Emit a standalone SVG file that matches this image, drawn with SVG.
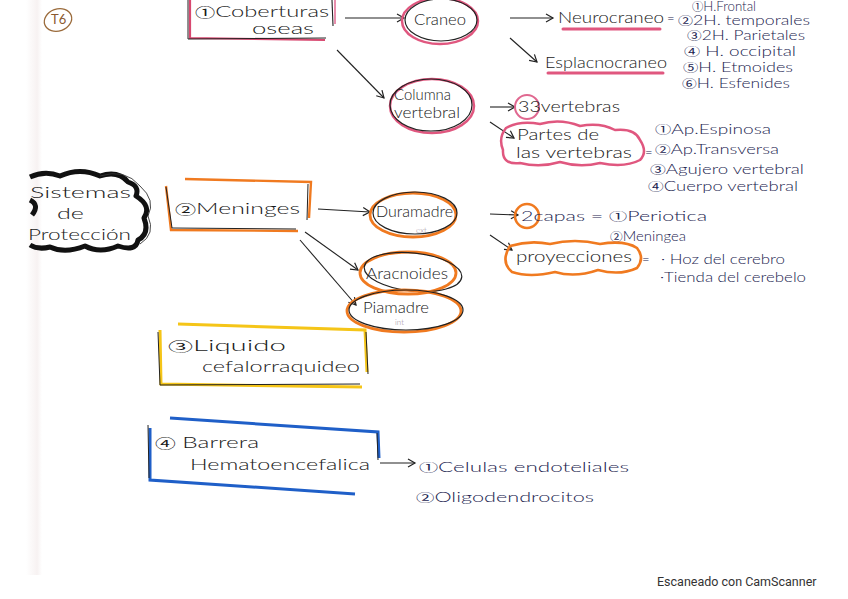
<svg xmlns="http://www.w3.org/2000/svg" width="848" height="599" viewBox="0 0 848 599">
<defs>
<marker id="ah" markerWidth="10" markerHeight="10" refX="8" refY="5" orient="auto" markerUnits="userSpaceOnUse">
<path d="M1,1 L8,5 L1,9" fill="none" stroke="#222" stroke-width="1.2"/>
</marker>
<style>
.t{font-family:"Lato","Open Sans","DejaVu Sans",sans-serif;font-weight:300;font-size:15px;fill:#1a1a1a}
.n{font-family:"Lato","Open Sans","DejaVu Sans",sans-serif;font-weight:300;font-size:13px;fill:#1c2550}
.d{font-family:"Noto Sans CJK JP","Noto Sans CJK SC",sans-serif;font-weight:normal;font-size:0.85em}
.s{font-family:"Lato","Open Sans",sans-serif;font-weight:300;font-size:8px;fill:#9a8a9a}
.c{fill:none;stroke:#222;stroke-width:1.1}
.pink{fill:none;stroke:#e0577f;stroke-width:2.5}
.orange{fill:none;stroke:#f07a20;stroke-width:2.8}
.blk{fill:none;stroke:#222;stroke-width:1.2}
</style>
<linearGradient id="edge" x1="0" x2="1" y1="0" y2="0">
<stop offset="0" stop-color="#ffffff"/>
<stop offset="0.7" stop-color="#f7f2f2"/>
<stop offset="1" stop-color="#ffffff"/>
</linearGradient>
</defs>
<rect width="848" height="599" fill="#ffffff"/>
<rect x="26" y="0" width="16" height="575" fill="url(#edge)"/>

<g id="t6">
<ellipse cx="58" cy="20" rx="14" ry="11" fill="none" stroke="#9a6a3a" stroke-width="1.3" transform="rotate(-20 58 20)"/>
<text x="51" y="24" style="font-family:'Lato',sans-serif;font-size:13px;fill:#8a5a30">T6</text>
</g>

<g id="connectors">
<line class="c" x1="345" y1="18" x2="404" y2="18" marker-end="url(#ah)"/>
<line class="c" x1="510" y1="18" x2="553" y2="18" marker-end="url(#ah)"/>
<line class="c" x1="510" y1="38" x2="537" y2="62" marker-end="url(#ah)"/>
<line class="c" x1="337" y1="50" x2="384" y2="98" marker-end="url(#ah)"/>
<line class="c" x1="490" y1="107" x2="515" y2="107" marker-end="url(#ah)"/>
<line class="c" x1="490" y1="122" x2="514" y2="138" marker-end="url(#ah)"/>
<line class="c" x1="318" y1="209" x2="370" y2="212" marker-end="url(#ah)"/>
<line class="c" x1="305" y1="232" x2="358" y2="270" marker-end="url(#ah)"/>
<line class="c" x1="300" y1="240" x2="356" y2="305" marker-end="url(#ah)"/>
<line class="c" x1="490" y1="214" x2="518" y2="215" marker-end="url(#ah)" stroke="#777"/>
<line class="c" x1="490" y1="235" x2="512" y2="250" marker-end="url(#ah)"/>
<line class="c" x1="380" y1="463" x2="415" y2="463" marker-end="url(#ah)"/>
</g>

<g id="coberturas">
<path d="M190,0 L190,38 L325,40" fill="none" stroke="#d84870" stroke-width="2.2"/>
<path d="M188,0 L188,39 L326,38" fill="none" stroke="#222" stroke-width="1"/>
<path d="M332,0 L333,26" fill="none" stroke="#222" stroke-width="1.1"/>
<path d="M335,0 L335,24" fill="none" stroke="#e06890" stroke-width="1.5"/>
<text class="t" x="195" y="17" textLength="134" lengthAdjust="spacingAndGlyphs"><tspan class="d">①</tspan>Coberturas</text>
<text class="t" x="252" y="34" textLength="62" lengthAdjust="spacingAndGlyphs">oseas</text>
</g>

<g id="craneo">
<ellipse class="pink" cx="440" cy="21" rx="38" ry="23"/>
<ellipse class="blk" cx="441" cy="20" rx="36" ry="21"/>
<text class="t" x="414" y="25" textLength="52" lengthAdjust="spacingAndGlyphs">Craneo</text>
</g>

<g id="neurocraneo">
<text class="t" x="558" y="23" textLength="106" lengthAdjust="spacingAndGlyphs">Neurocraneo</text>
<line x1="563" y1="29" x2="660" y2="29" stroke="#e0577f" stroke-width="3" stroke-linecap="round"/>
<text class="n" x="667" y="23">=</text>
<text class="n" x="692" y="11" font-size="10" textLength="64" lengthAdjust="spacingAndGlyphs"><tspan class="d">①</tspan>H.Frontal</text>
<text class="n" x="678" y="25" textLength="132" lengthAdjust="spacingAndGlyphs"><tspan class="d">②</tspan>2H. temporales</text>
<text class="n" x="687" y="40" textLength="118" lengthAdjust="spacingAndGlyphs"><tspan class="d">③</tspan>2H. Parietales</text>
<text class="n" x="684" y="56" textLength="112" lengthAdjust="spacingAndGlyphs"><tspan class="d">④</tspan> H. occipital</text>
<text class="n" x="683" y="72" textLength="110" lengthAdjust="spacingAndGlyphs"><tspan class="d">⑤</tspan>H. Etmoides</text>
<text class="n" x="682" y="88" textLength="108" lengthAdjust="spacingAndGlyphs"><tspan class="d">⑥</tspan>H. Esfenides</text>
</g>

<g id="esplacnocraneo">
<text class="t" x="545" y="68" textLength="122" lengthAdjust="spacingAndGlyphs">Esplacnocraneo</text>
<line x1="548" y1="73" x2="663" y2="73" stroke="#e0577f" stroke-width="3" stroke-linecap="round"/>
</g>

<g id="columna">
<ellipse class="pink" cx="432" cy="106" rx="42" ry="27"/>
<ellipse class="blk" cx="431" cy="105" rx="41" ry="26"/>
<text class="t" x="394" y="100" font-size="14" textLength="57" lengthAdjust="spacingAndGlyphs">Columna</text>
<text class="t" x="394" y="118" font-size="14" textLength="66" lengthAdjust="spacingAndGlyphs">vertebral</text>
</g>

<g id="vertebras33">
<circle cx="527" cy="107" r="12" fill="none" stroke="#e06890" stroke-width="2"/>
<text class="t" x="518" y="112" textLength="102" lengthAdjust="spacingAndGlyphs">33vertebras</text>
</g>

<g id="partes">
<path d="M506,128 Q520,120 540,124 Q560,118 580,126 Q600,122 615,130 Q635,128 640,140 Q648,152 640,160 Q625,168 600,163 Q580,168 560,162 Q540,168 520,163 Q502,165 503,150 Q498,138 506,128 Z" fill="none" stroke="#e0577f" stroke-width="2.5"/>
<text class="t" x="517" y="140" textLength="82" lengthAdjust="spacingAndGlyphs">Partes de</text>
<text class="t" x="516" y="158" textLength="116" lengthAdjust="spacingAndGlyphs">las vertebras</text>
<text class="n" x="645" y="157">=</text>
<text class="n" x="655" y="134" textLength="116" lengthAdjust="spacingAndGlyphs"><tspan class="d">①</tspan>Ap.Espinosa</text>
<text class="n" x="655" y="154" textLength="124" lengthAdjust="spacingAndGlyphs"><tspan class="d">②</tspan>Ap.Transversa</text>
<text class="n" x="650" y="174" textLength="154" lengthAdjust="spacingAndGlyphs"><tspan class="d">③</tspan>Agujero vertebral</text>
<text class="n" x="648" y="191" textLength="150" lengthAdjust="spacingAndGlyphs"><tspan class="d">④</tspan>Cuerpo vertebral</text>
</g>

<g id="sistemas">
<path d="M30,177 Q45,170 60,176 Q80,167 100,176 Q118,170 128,182 Q140,186 136,196 Q152,206 144,218 Q150,234 138,240 Q136,252 118,246 Q100,254 85,246 Q65,254 50,247 Q38,250 30,245" fill="none" stroke="#111" stroke-width="5" stroke-linejoin="round"/>
<path d="M100,176 Q125,168 140,186 Q156,200 148,216 Q156,234 140,244" fill="none" stroke="#333" stroke-width="0.9"/>
<path d="M30,200 Q40,205 32,215" fill="none" stroke="#111" stroke-width="5"/>
<text class="t" x="30" y="198" textLength="101" lengthAdjust="spacingAndGlyphs">Sistemas</text>
<text class="t" x="57" y="219" textLength="27" lengthAdjust="spacingAndGlyphs">de</text>
<text class="t" x="28" y="240" textLength="103" lengthAdjust="spacingAndGlyphs">Protección</text>
</g>

<g id="meninges">
<path d="M166,186 L171,230 L298,231 M185,179 L311,182 L309,218" fill="none" stroke="#f07a20" stroke-width="2.4"/>
<path d="M166,187 L172,228 L296,229 M308,184 L307,220" fill="none" stroke="#222" stroke-width="1"/>
<text class="t" x="175" y="214" textLength="125" lengthAdjust="spacingAndGlyphs"><tspan class="d">②</tspan>Meninges</text>
</g>

<g id="duramadre">
<ellipse class="orange" cx="413" cy="215" rx="43" ry="22"/>
<ellipse class="blk" cx="415" cy="213" rx="42" ry="21"/>
<text class="t" x="376" y="217" textLength="77" lengthAdjust="spacingAndGlyphs">Duramadre</text>
<text class="s" x="416" y="233">ext</text>
</g>

<g id="aracnoides">
<ellipse class="orange" cx="408" cy="273" rx="48" ry="21"/>
<ellipse class="blk" cx="413" cy="272" rx="49" ry="19" transform="rotate(6 413 272)"/>
<text class="t" x="366" y="279" textLength="82" lengthAdjust="spacingAndGlyphs">Aracnoides</text>
</g>

<g id="piamadre">
<ellipse class="orange" cx="404" cy="311" rx="57" ry="21"/>
<ellipse class="blk" cx="406" cy="310" rx="57" ry="20"/>
<text class="t" x="363" y="313" textLength="66" lengthAdjust="spacingAndGlyphs">Piamadre</text>
<text class="s" x="395" y="325">int</text>
</g>

<g id="capas">
<circle cx="527" cy="216" r="12" fill="none" stroke="#f07a20" stroke-width="2.5"/>
<text class="n" x="521" y="221" textLength="186" lengthAdjust="spacingAndGlyphs">2capas = <tspan class="d">①</tspan>Periotica</text>
<text class="n" x="610" y="241" textLength="76" lengthAdjust="spacingAndGlyphs"><tspan class="d">②</tspan>Meningea</text>
</g>

<g id="proyecciones">
<path d="M510,246 Q530,240 550,244 Q575,238 600,244 Q625,240 637,248 Q645,258 637,268 Q620,276 598,270 Q575,278 555,272 Q530,278 512,272 Q500,262 510,246 Z" fill="none" stroke="#f07a20" stroke-width="2.6"/>
<text class="t" x="516" y="262" textLength="116" lengthAdjust="spacingAndGlyphs">proyecciones</text>
<text class="n" x="642" y="264">=</text>
<text class="n" x="661" y="264" textLength="124" lengthAdjust="spacingAndGlyphs">· Hoz del cerebro</text>
<text class="n" x="660" y="282" textLength="146" lengthAdjust="spacingAndGlyphs">·Tienda del cerebelo</text>
</g>

<g id="liquido">
<path d="M178,324 L365,330 L367,372 M160,330 L161,384 L362,387" fill="none" stroke="#f5c518" stroke-width="3"/>
<path d="M158,332 L160,385 L360,384 M366,332 L368,374" fill="none" stroke="#222" stroke-width="1"/>
<text class="t" x="168" y="351" textLength="118" lengthAdjust="spacingAndGlyphs"><tspan class="d">③</tspan>Liquido</text>
<text class="t" x="202" y="372" textLength="158" lengthAdjust="spacingAndGlyphs">cefalorraquideo</text>
</g>

<g id="barrera">
<path d="M170,418 L378,432 L379,458 M150,428 L150,480 L355,494" fill="none" stroke="#1f5fc8" stroke-width="3"/>
<path d="M148,425 L149,478 M377,433 L378,460" fill="none" stroke="#222" stroke-width="1"/>
<text class="t" x="155" y="448" textLength="104" lengthAdjust="spacingAndGlyphs"><tspan class="d">④</tspan> Barrera</text>
<text class="t" x="190" y="470" textLength="180" lengthAdjust="spacingAndGlyphs">Hematoencefalica</text>
</g>

<g id="celulas">
<text class="n" x="419" y="472" textLength="210" lengthAdjust="spacingAndGlyphs"><tspan class="d">①</tspan>Celulas endoteliales</text>
</g>

<g id="oligo">
<text class="n" x="416" y="502" textLength="178" lengthAdjust="spacingAndGlyphs"><tspan class="d">②</tspan>Oligodendrocitos</text>
</g>

<text x="657" y="586" style="font-family:Roboto,'Liberation Sans',sans-serif;font-size:12.5px;fill:#333">Escaneado con CamScanner</text>
</svg>
